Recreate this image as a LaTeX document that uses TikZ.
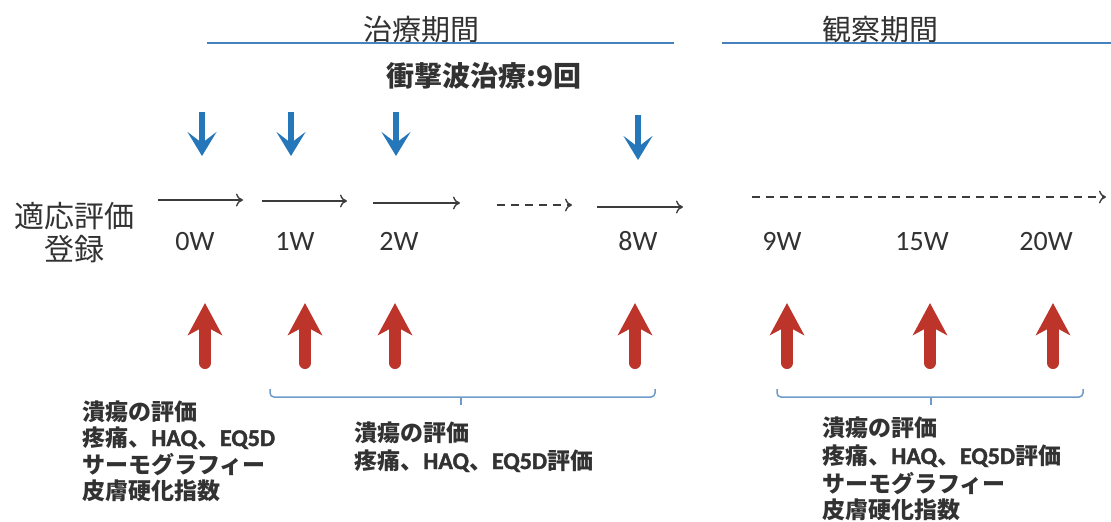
\documentclass[tikz,border=0pt]{standalone}
\usepackage{fontspec}
\setmainfont{Carlito}
\newfontfamily\jp{Noto Sans CJK JP}
\newfontfamily\lat[FakeBold=1.6]{Carlito}
\usetikzlibrary{arrows.meta}
\definecolor{txt}{RGB}{50,50,50}
\definecolor{hblue}{RGB}{70,130,192}
\definecolor{ablue}{RGB}{38,118,186}
\definecolor{ared}{RGB}{188,52,42}
\definecolor{bracec}{RGB}{110,155,200}
\definecolor{tline}{RGB}{60,60,60}
\newcommand{\lt}[1]{{\lat\fontsize{24}{26}\selectfont #1}}
\tikzset{
  hdr/.style={anchor=base, inner sep=0, text=txt, font=\jp\fontsize{29}{32}\selectfont},
  sub/.style={anchor=base, inner sep=0, text=txt, font=\jp\bfseries\fontsize{28}{32}\selectfont},
  side/.style={anchor=base, inner sep=0, text=txt, font=\jp\fontsize{30}{34}\selectfont},
  wk/.style={anchor=base, inner sep=0, text=txt, font=\fontsize{28}{32}\selectfont},
  note/.style={anchor=base west, inner sep=0, text=txt, font=\jp\bfseries\fontsize{23}{26}\selectfont},
  period/.style={draw=hblue, line width=2.6pt},
  tl/.style={draw=tline, line width=1.4pt, -{To[length=7pt,width=13pt]}},
  tld/.style={tl, dash pattern=on 8pt off 6pt},
  bluearr/.style={draw=ablue, line width=6pt, -{Stealth[length=24pt,width=29pt,inset=11pt]}},
  redarr/.style={draw=ared, line width=12pt, line cap=round, -{Stealth[length=32pt,width=34pt,inset=9pt]}},
  bracket/.style={draw=bracec, line width=1.5pt, rounded corners=4pt},
}
\begin{document}
\begin{tikzpicture}[x=1pt,y=-1pt]
\useasboundingbox (0,0) rectangle (1111,522);

% headers
\node[hdr] (treat) at (421,40) {治療期間};
\node[hdr] (obs) at (880,40) {観察期間};
\coordinate (t1) at (207,43); \coordinate (t2) at (674,43);
\coordinate (o1) at (722,43); \coordinate (o2) at (1111,43);
\path[period] (t1) -- (t2);
\path[period] (o1) -- (o2);
\node[sub] (shock) at (484,86) {衝撃波治療:9回};

% blue arrows
\foreach \n/\x/\ya/\yb in {b0/202/112/156, b1/291/112/156, b2/396/112/156, b8/638/115/160} {
  \coordinate (\n s) at (\x,\ya); \coordinate (\n e) at (\x,\yb);
  \path[bluearr] (\n s) -- (\n e);
}

% side labels
\node[side] (eval) at (74,227) {適応評価};
\node[side] (reg) at (74,260) {登録};

% timeline arrows
\coordinate (a0s) at (158,200); \coordinate (a0e) at (243,200);
\coordinate (a1s) at (262,201); \coordinate (a1e) at (347,201);
\coordinate (a2s) at (373,203); \coordinate (a2e) at (460,203);
\coordinate (a3s) at (497,205); \coordinate (a3e) at (572,205);
\coordinate (a8s) at (597,207); \coordinate (a8e) at (683,207);
\coordinate (a9s) at (752,197); \coordinate (a9e) at (1106,197);
\path[tl] (a0s) -- (a0e);
\path[tl] (a1s) -- (a1e);
\path[tl] (a2s) -- (a2e);
\path[tld] (a3s) -- (a3e);
\path[tl] (a8s) -- (a8e);
\path[tld] (a9s) -- (a9e);

% week labels
\node[wk] (w0) at (195,250) {0W};
\node[wk] (w1) at (295,250) {1W};
\node[wk] (w2) at (399,250) {2W};
\node[wk] (w8) at (638,250) {8W};
\node[wk] (w9) at (782,250) {9W};
\node[wk] (w15) at (922,250) {15W};
\node[wk] (w20) at (1046,250) {20W};

% red arrows
\foreach \n/\x in {r0/205, r1/305, r2/395, r8/635, r9/787, r15/930, r20/1053} {
  \coordinate (\n s) at (\x,363); \coordinate (\n e) at (\x,303);
  \path[redarr] (\n s) -- (\n e);
}

% brackets
\coordinate (k1a) at (270,389); \coordinate (k1b) at (655,397); \coordinate (k1c) at (655,389);
\coordinate (k1m) at (461,397); \coordinate (k1t) at (461,405);
\path[bracket] (k1a) |- (k1b) -- (k1c);
\path[bracket] (k1m) -- (k1t);
\coordinate (k2a) at (777,389); \coordinate (k2b) at (1083,397); \coordinate (k2c) at (1083,389);
\coordinate (k2m) at (931,397); \coordinate (k2t) at (931,405);
\path[bracket] (k2a) |- (k2b) -- (k2c);
\path[bracket] (k2m) -- (k2t);

% notes
\node[note] (l1) at (82,420) {潰瘍の評価};
\node[note] (l2) at (82,446) {疼痛、\lt{HAQ}、\lt{EQ5D}};
\node[note] (l3) at (82,473) {サーモグラフィー};
\node[note] (l4) at (82,499) {皮膚硬化指数};

\node[note] (m1) at (354,441) {潰瘍の評価};
\node[note] (m2) at (354,469) {疼痛、\lt{HAQ}、\lt{EQ5D}評価};

\node[note] (n1) at (822,436) {潰瘍の評価};
\node[note] (n2) at (822,464) {疼痛、\lt{HAQ}、\lt{EQ5D}評価};
\node[note] (n3) at (822,492) {サーモグラフィー};
\node[note] (n4) at (822,518) {皮膚硬化指数};
\end{tikzpicture}
\end{document}
